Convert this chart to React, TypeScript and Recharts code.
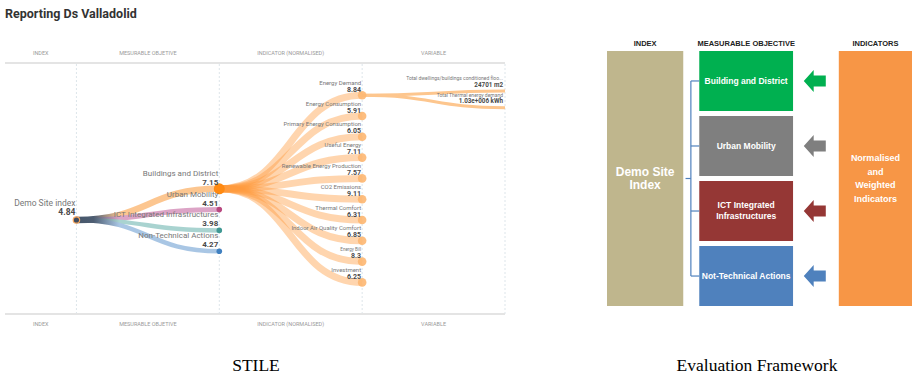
import React from 'react';
import { ComposedChart, Line, Scatter, XAxis, YAxis, ReferenceLine, ReferenceArea } from 'recharts';

// ---- STILE tree (left) ----
const columnLabels = ['INDEX', 'MESURABLE OBJETIVE', 'INDICATOR (NORMALISED)', 'VARIABLE'];

const rootName = 'Demo Site index';
const rootValue = '4.84';

const objectiveNames = ['Buildings and District', 'Urban Mobility', 'ICT Integrated Infrastructures', 'Non-Technical Actions'];
const objectiveValues = ['7.15', '4.51', '3.98', '4.27'];

const indicatorNames = [
    'Energy Demand',
    'Energy Consumption',
    'Primary Energy Consumption',
    'Useful Energy',
    'Renewable Energy Production',
    'CO2 Emissions',
    'Thermal Comfort',
    'Indoor Air Quality Comfort',
    'Energy Bill',
    'Investment',
];
const indicatorValues = ['8.84', '5.91', '6.05', '7.11', '7.57', '9.11', '6.31', '6.85', '8.3', '6.25'];

const variableNames = ['Total dwellings/buildings conditioned floo...', 'Total Thermal energy demand'];
const variableValues = ['24701 m2', '1.03e+006 kWh'];

// ---- Evaluation framework (right) ----
const frameworkHeaders = ['INDEX', 'MEASURABLE OBJECTIVE', 'INDICATORS'];
const frameworkIndex = ['Demo Site', 'Index'];
const frameworkObjectives = [['Building and District'], ['Urban Mobility'], ['ICT Integrated', 'Infrastructures'], ['Not-Technical Actions']];
const frameworkIndicators = ['Normalised', 'and', 'Weighted', 'Indicators'];

// styles
const linkColors = ['#fcc690', '#dca4c6', '#a9d3d0', '#a9c6e4'];
const linkWidths = [6.5, 5, 4.5, 4.5];
const nodeColors = ['#ff8a12', '#b8487f', '#3f9893', '#4080c0'];
const boxColors = ['#00b050', '#7f7f7f', '#953735', '#4f81bd'];
const FONT = 'Roboto, sans-serif';
const NARROW = '"Liberation Sans Narrow", "Arial Narrow", "Liberation Sans", Arial, sans-serif';

type TreeNode = { name: string; value: string; level: number; row: number; kind: string; idx: number };

// simple tidy layout: children centred on their parent, one row apart
const spread = (center: number, count: number, step: number) =>
    Array.from({ length: count }, (_, i) => center + (i - (count - 1) / 2) * step);

const root: TreeNode = { name: rootName, value: rootValue, level: 1, row: 0, kind: 'root', idx: 0 };
const objRows = spread(root.row, objectiveNames.length, 1);
const objectives: TreeNode[] = objectiveNames.map((name, i) => ({ name, value: objectiveValues[i], level: 2, row: objRows[i], kind: 'objective', idx: i }));
const indRows = spread(objectives[0].row, indicatorNames.length, 1);
const indicators: TreeNode[] = indicatorNames.map((name, i) => ({ name, value: indicatorValues[i], level: 3, row: indRows[i], kind: 'indicator', idx: i }));
const varRows = spread(indicators[0].row + 0.2, variableNames.length, 0.8);
const variables: TreeNode[] = variableNames.map((name, i) => ({ name, value: variableValues[i], level: 4, row: varRows[i], kind: 'variable', idx: i }));

const nodes = [root, ...objectives, ...indicators, ...variables].map(n => ({ ...n, x: n.level, y: n.row }));

const seg = (a: TreeNode, b: TreeNode) => [{ x: a.level, y: a.row }, { x: b.level, y: b.row }];

const columnTicks = [0.75, 1.5, 2.5, 3.5];
const columnFormatter = (v: number) => columnLabels[columnTicks.indexOf(v)] ?? '';

const NodeShape = (props: any) => {
    const { cx, cy, payload } = props;
    const n: TreeNode = payload;
    if (n.kind === 'root') {
        return (
            <g fontFamily={FONT}>
                <circle cx={cx} cy={cy} r={3.2} fill="#3d4b5e" stroke="#f7a55a" strokeWidth={1.2} />
                <text x={cx - 1} y={cy - 14.5} textAnchor="end" fontSize={8.5} fill="#777">{n.name}</text>
                <text x={cx - 1} y={cy - 5} textAnchor="end" fontSize={8.5} fontWeight={700} fill="#4a4a4a">{n.value}</text>
            </g>
        );
    }
    if (n.kind === 'objective') {
        return (
            <g fontFamily={FONT}>
                <circle cx={cx} cy={cy} r={n.idx === 0 ? 5.5 : 2.8} fill={nodeColors[n.idx]} />
                <text x={cx - 1} y={cy - 13} textAnchor="end" fontSize={8} fill="#777">{n.name}</text>
                <text x={cx - 1} y={cy - 4} textAnchor="end" fontSize={8} fontWeight={700} fill="#4a4a4a">{n.value}</text>
            </g>
        );
    }
    if (n.kind === 'indicator') {
        const small = n.name === 'Energy Bill';
        return (
            <g fontFamily={FONT}>
                <circle cx={cx} cy={cy} r={4.3} fill="#fdb772" fillOpacity={0.9} />
                <text x={cx - 1} y={cy - 10.5} textAnchor="end" fontSize={small ? 4.5 : 6} fill="#777">{n.name}</text>
                <text x={cx - 1} y={cy - 3.5} textAnchor="end" fontSize={7} fontWeight={700} fill="#4a4a4a">{n.value}</text>
            </g>
        );
    }
    return (
        <g fontFamily={FONT}>
            <text x={cx - 2} y={cy - 11} textAnchor="end" fontSize={5} fill="#777">{n.name}</text>
            <text x={cx - 2} y={cy - 4.5} textAnchor="end" fontSize={6.3} fontWeight={700} fill="#4a4a4a">{n.value}</text>
        </g>
    );
};

const StileChart = () => (
    <ComposedChart width={510} height={378} margin={{ top: 43, right: 5, bottom: 44, left: 5 }}>
        <defs>
            {linkColors.map((c, i) => (
                <linearGradient key={i} id={`rootLink${i}`} x1="0" y1="0" x2="1" y2="0">
                    <stop offset="0%" stopColor="#46566a" />
                    <stop offset="12%" stopColor="#4d5d72" />
                    <stop offset="30%" stopColor={c} />
                </linearGradient>
            ))}
        </defs>
        <XAxis
            xAxisId="top"
            orientation="top"
            type="number"
            dataKey="x"
            domain={[0.5, 4]}
            ticks={columnTicks}
            tickFormatter={columnFormatter}
            tick={{ fontSize: 5.5, fill: '#9a9a9a', fontFamily: FONT }}
            tickLine={false}
            axisLine={{ stroke: '#e4e4e4', strokeWidth: 2 }}
            height={20}
        />
        <XAxis
            type="number"
            dataKey="x"
            domain={[0.5, 4]}
            ticks={columnTicks}
            tickFormatter={columnFormatter}
            tick={{ fontSize: 5.5, fill: '#9a9a9a', fontFamily: FONT }}
            tickLine={false}
            axisLine={{ stroke: '#e4e4e4', strokeWidth: 2 }}
            height={20}
        />
        <YAxis type="number" dataKey="y" domain={[-7.55, 4.52]} reversed hide />
        {[1, 2, 3, 4].map(l => (
            <ReferenceLine key={l} x={l} stroke="#dde5ea" strokeDasharray="2 2" />
        ))}
        {objectives.map((o, i) => (
            <Line
                key={`r${i}`}
                data={seg(root, o)}
                dataKey="y"
                type="bumpX"
                stroke={`url(#rootLink${i})`}
                strokeWidth={linkWidths[i]}
                dot={false}
                activeDot={false}
                isAnimationActive={false}
            />
        ))}
        {indicators.map((d, i) => (
            <Line
                key={`i${i}`}
                data={seg(objectives[0], d)}
                dataKey="y"
                type="bumpX"
                stroke="#ff9a3e"
                strokeOpacity={0.42}
                strokeWidth={7}
                dot={false}
                activeDot={false}
                isAnimationActive={false}
            />
        ))}
        {variables.map((v, i) => (
            <Line
                key={`v${i}`}
                data={seg(indicators[0], v)}
                dataKey="y"
                type="bumpX"
                stroke="#fdc68e"
                strokeWidth={3}
                dot={false}
                activeDot={false}
                isAnimationActive={false}
            />
        ))}
        <Scatter xAxisId="top" data={nodes} shape={<NodeShape />} isAnimationActive={false} />
    </ComposedChart>
);

// ---- framework diagram layout (column spans in axis units) ----
const COL_INDEX = [0, 1];
const COL_OBJ = [1.21, 2.44];
const COL_ARROW = [2.57, 2.88];
const COL_IND = [3.04, 4];
const BRACKET_X = 1.1;
const STUB_X = 1.03;
const GAP = 0.08;
const BOX_H = (4 - 3 * GAP) / 4;
const boxTop = (i: number) => i * (BOX_H + GAP);
const boxMid = (i: number) => boxTop(i) + BOX_H / 2;

const arrowPoints = frameworkObjectives.map((_, i) => ({ x: (COL_ARROW[0] + COL_ARROW[1]) / 2, y: boxMid(i), idx: i }));

const BoxLabel = (props: any) => {
    const { viewBox, lines, fontSize, lineHeight } = props;
    if (!viewBox) return null;
    const { x, y, width, height } = viewBox;
    const cx = x + width / 2;
    const start = y + height / 2 - ((lines.length - 1) * lineHeight) / 2;
    return (
        <text textAnchor="middle" fill="#fff" fontSize={fontSize} fontWeight={700} fontFamily={NARROW}>
            {lines.map((l: string, i: number) => (
                <tspan key={i} x={cx} y={start + i * lineHeight} dy="0.35em">{l}</tspan>
            ))}
        </text>
    );
};

const ArrowShape = (props: any) => {
    const { cx, cy, payload } = props;
    const w = 22;
    const h = 22;
    const x = cx - w / 2;
    const head = w * 0.45;
    const tail = h * 0.5;
    const pts = [
        [x, cy], [x + head, cy - h / 2], [x + head, cy - tail / 2], [x + w, cy - tail / 2],
        [x + w, cy + tail / 2], [x + head, cy + tail / 2], [x + head, cy + h / 2],
    ].map(p => p.join(',')).join(' ');
    return <polygon points={pts} fill={boxColors[payload.idx]} />;
};

const headerTicks = [COL_INDEX, COL_OBJ, COL_IND].map(c => (c[0] + c[1]) / 2);

const FrameworkChart = () => (
    <ComposedChart width={312} height={378} margin={{ top: 31, right: 0, bottom: 72, left: 7 }}>
        <XAxis
            orientation="top"
            type="number"
            dataKey="x"
            domain={[0, 4]}
            ticks={headerTicks}
            tickFormatter={(v: number) => frameworkHeaders[headerTicks.indexOf(v)] ?? ''}
            tick={{ fontSize: 7.5, fontWeight: 700, fill: '#222', fontFamily: NARROW }}
            tickLine={false}
            axisLine={false}
            tickSize={0}
            tickMargin={5}
            height={20}
        />
        <YAxis type="number" dataKey="y" domain={[0, 4]} reversed hide />
        <ReferenceArea
            x1={COL_INDEX[0]} x2={COL_INDEX[1]} y1={0} y2={4}
            fill="#bfb68d" fillOpacity={1} strokeOpacity={0}
            label={<BoxLabel lines={frameworkIndex} fontSize={12} lineHeight={13.5} />}
        />
        <ReferenceArea
            x1={COL_IND[0]} x2={COL_IND[1]} y1={0} y2={4}
            fill="#f79646" fillOpacity={1} strokeOpacity={0}
            label={<BoxLabel lines={frameworkIndicators} fontSize={9} lineHeight={13.5} />}
        />
        {frameworkObjectives.map((lines, i) => (
            <ReferenceArea
                key={`b${i}`}
                x1={COL_OBJ[0]} x2={COL_OBJ[1]} y1={boxTop(i)} y2={boxTop(i) + BOX_H}
                fill={boxColors[i]} fillOpacity={1} strokeOpacity={0}
                label={<BoxLabel lines={lines} fontSize={8.5} lineHeight={11} />}
            />
        ))}
        <ReferenceLine
            segment={[{ x: BRACKET_X, y: boxMid(0) }, { x: BRACKET_X, y: boxMid(3) }]}
            stroke="#4f81bd" strokeWidth={1.2}
        />
        <ReferenceLine
            segment={[{ x: STUB_X, y: 2 }, { x: BRACKET_X, y: 2 }]}
            stroke="#4f81bd" strokeWidth={1.2}
        />
        {frameworkObjectives.map((_, i) => (
            <ReferenceLine
                key={`t${i}`}
                segment={[{ x: BRACKET_X, y: boxMid(i) }, { x: COL_OBJ[0], y: boxMid(i) }]}
                stroke="#4f81bd" strokeWidth={1.2}
            />
        ))}
        <Scatter data={arrowPoints} shape={<ArrowShape />} isAnimationActive={false} />
    </ComposedChart>
);

export default function App() {
    return (
        <div style={{ position: 'absolute', left: 0, top: 0, width: 912, height: 378, background: '#fff', overflow: 'hidden' }}>
            <div style={{ position: 'absolute', left: 5, top: 5, fontFamily: FONT, fontWeight: 700, fontSize: 12.5, color: '#333', lineHeight: '18px' }}>
                Reporting Ds Valladolid
            </div>
            <div style={{ position: 'absolute', left: 0, top: 0 }}>
                <StileChart />
            </div>
            <div style={{ position: 'absolute', left: 600, top: 0 }}>
                <FrameworkChart />
            </div>
            <div style={{ position: 'absolute', left: 156, width: 200, top: 355, textAlign: 'center', fontFamily: '"Liberation Serif", "Times New Roman", serif', fontSize: 17.5, color: '#000' }}>
                STILE
            </div>
            <div style={{ position: 'absolute', left: 657, width: 200, top: 355, textAlign: 'center', fontFamily: '"Liberation Serif", "Times New Roman", serif', fontSize: 17.5, color: '#000' }}>
                Evaluation Framework
            </div>
        </div>
    );
}
